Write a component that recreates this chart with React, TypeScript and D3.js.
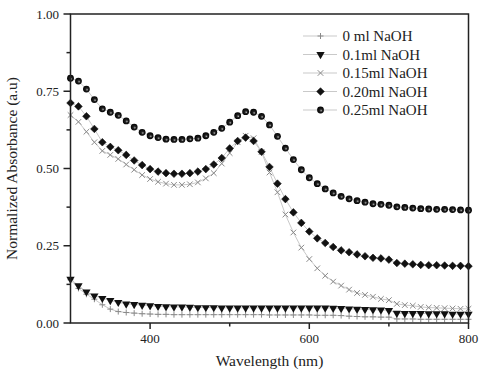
import React from "react";
import * as d3 from "d3";

const wavelengths = [300,310,320,330,340,350,360,370,380,390,400,410,420,430,440,450,460,470,480,490,500,510,520,530,540,550,560,570,580,590,600,610,620,630,640,650,660,670,680,690,700,710,720,730,740,750,760,770,780,790,800];

const naoh0 = [.140,.112,.093,.077,.059,.045,.037,.034,.032,.030,.029,.028,.028,.027,.027,.027,.027,.027,.027,.027,.027,.027,.027,.027,.027,.026,.026,.026,.026,.026,.026,.025,.025,.025,.024,.022,.021,.020,.020,.019,.019,.013,.013,.013,.012,.012,.012,.012,.012,.012,.012];
const naoh01 = [.142,.121,.101,.088,.080,.073,.067,.062,.060,.058,.056,.054,.053,.052,.052,.051,.050,.050,.050,.049,.049,.049,.049,.049,.049,.049,.049,.049,.049,.049,.049,.049,.049,.048,.047,.046,.045,.044,.043,.042,.041,.032,.031,.031,.031,.030,.030,.030,.029,.029,.029];
const naoh015 = [.673,.651,.619,.585,.557,.544,.531,.513,.496,.479,.466,.457,.451,.447,.447,.449,.455,.468,.485,.516,.550,.585,.606,.598,.553,.487,.423,.351,.293,.244,.207,.177,.153,.134,.121,.108,.097,.091,.085,.078,.074,.062,.058,.056,.052,.050,.049,.048,.047,.046,.046];
const naoh020 = [.712,.701,.669,.628,.585,.570,.559,.544,.526,.511,.498,.490,.485,.483,.483,.485,.490,.498,.513,.534,.565,.589,.600,.589,.554,.505,.451,.401,.358,.324,.296,.274,.259,.246,.235,.229,.222,.216,.211,.209,.205,.194,.192,.190,.188,.187,.187,.186,.185,.185,.184];
const naoh025 = [.792,.783,.757,.723,.693,.682,.672,.654,.634,.617,.606,.600,.595,.594,.594,.596,.598,.606,.617,.630,.650,.671,.684,.682,.669,.641,.604,.566,.529,.496,.470,.451,.434,.421,.410,.402,.396,.391,.386,.384,.381,.376,.374,.372,.370,.369,.368,.368,.367,.366,.365];

const seriesNames = ["0 ml NaOH", "0.1ml NaOH", "0.15ml NaOH", "0.20ml NaOH", "0.25ml NaOH"];
const seriesValues = [naoh0, naoh01, naoh015, naoh020, naoh025];
const seriesMarkers = ["plus", "triangle", "cross", "diamond", "sphere"];

const xMajorTicks = [400, 600, 800];
const xMinorTicks = [500, 700];
const yMajorTicks = [0, 0.25, 0.5, 0.75, 1.0];
const yMinorTicks = [0.125, 0.375, 0.625, 0.875];

const W = 485, H = 370;
const L = 70.5, R = 468.5, T = 14, B = 323;
const textStyle = { fontFamily: '"Liberation Serif"' };

function Marker({ type, x, y }: { type: string; x: number; y: number }) {
  if (type === "plus") {
    return <path d={`M${x - 3},${y}H${x + 3}M${x},${y - 3}V${y + 3}`} stroke="#8a8a8a" strokeWidth={1} fill="none" />;
  }
  if (type === "cross") {
    return <path d={`M${x - 2.8},${y - 2.8}L${x + 2.8},${y + 2.8}M${x - 2.8},${y + 2.8}L${x + 2.8},${y - 2.8}`} stroke="#8a8a8a" strokeWidth={1} fill="none" />;
  }
  if (type === "triangle") {
    const p = d3.symbol().type(d3.symbolTriangle).size(30)();
    return <path d={p || ""} transform={`translate(${x},${y}) rotate(180)`} fill="#111" />;
  }
  if (type === "diamond") {
    const s = 3.8;
    return <path d={`M${x},${y - s}L${x + s},${y}L${x},${y + s}L${x - s},${y}Z`} fill="#111" stroke="#111" strokeWidth={0.6} strokeLinejoin="round" />;
  }
  return <circle cx={x} cy={y} r={3.4} fill="url(#sphereGrad)" />;
}

export default function App() {
  const x = d3.scaleLinear().domain([300, 800]).range([L, R]);
  const y = d3.scaleLinear().domain([0, 1]).range([B, T]);
  const line = d3.line<number>().x((_, i) => x(wavelengths[i])).y((v) => y(v));

  const legendY = [36, 54.5, 73, 91.5, 110];

  return (
    <svg width={W} height={H} style={{ position: "absolute", left: 0, top: 0, background: "#fff" }}>
      <defs>
        <radialGradient id="sphereGrad" cx="0.5" cy="0.5" r="0.5" fx="0.62" fy="0.62">
          <stop offset="0" stopColor="#b0b0b0" />
          <stop offset="0.4" stopColor="#222" />
          <stop offset="1" stopColor="#000" />
        </radialGradient>
      </defs>
      <rect width={W} height={H} fill="#fff" />

      {seriesValues.map((vals, si) => (
        <path key={"l" + si} d={line(vals) || ""} fill="none" stroke="#c9c9c9" strokeWidth={1} />
      ))}
      {seriesValues.map((vals, si) => (
        <g key={"m" + si}>
          {vals.map((v, i) => (
            <Marker key={i} type={seriesMarkers[si]} x={x(wavelengths[i])} y={y(v)} />
          ))}
        </g>
      ))}

      <rect x={L} y={T} width={R - L} height={B - T} fill="none" stroke="#222" strokeWidth={1.5} />

      {xMajorTicks.map((t) => (
        <g key={"xt" + t}>
          <line x1={x(t)} x2={x(t)} y1={B} y2={B + 6} stroke="#222" strokeWidth={1.5} />
          <text x={x(t)} y={343} textAnchor="middle" fontSize={13} fill="#222" style={textStyle}>{t}</text>
        </g>
      ))}
      {xMinorTicks.map((t) => (
        <line key={"xm" + t} x1={x(t)} x2={x(t)} y1={B} y2={B + 3.5} stroke="#222" strokeWidth={1.5} />
      ))}

      {yMajorTicks.map((t) => (
        <g key={"yt" + t}>
          <line x1={L - 7} x2={L} y1={y(t)} y2={y(t)} stroke="#222" strokeWidth={1.5} />
          <text x={59} y={y(t) + 4.5} textAnchor="end" fontSize={13} fill="#222" style={textStyle}>{t.toFixed(2)}</text>
        </g>
      ))}
      {yMinorTicks.map((t) => (
        <line key={"ym" + t} x1={L - 4} x2={L} y1={y(t)} y2={y(t)} stroke="#222" strokeWidth={1.5} />
      ))}

      <text x={(L + R) / 2} y={366} textAnchor="middle" fontSize={15.5} fill="#222" style={textStyle}>Wavelength (nm)</text>
      <text transform={`translate(16.5,${(T + B) / 2}) rotate(-90)`} textAnchor="middle" fontSize={15.5} fill="#222" style={textStyle}>Normalized Absorbance (a.u)</text>

      {seriesNames.map((name, i) => (
        <g key={"lg" + i}>
          <line x1={303} x2={337} y1={legendY[i]} y2={legendY[i]} stroke="#c9c9c9" strokeWidth={1} />
          <Marker type={seriesMarkers[i]} x={320.5} y={legendY[i]} />
          <text x={342.5} y={legendY[i] + 5} fontSize={15} fill="#222" style={textStyle}>{name}</text>
        </g>
      ))}
    </svg>
  );
}
